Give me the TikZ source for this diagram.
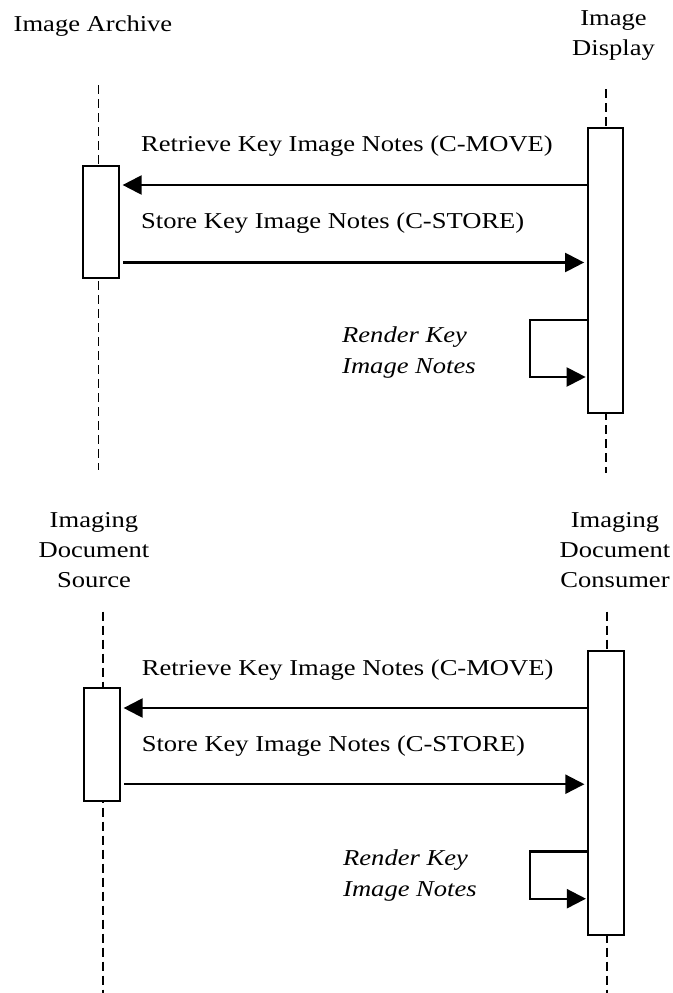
\documentclass[tikz,border=0pt]{standalone}
\usepackage{fontspec}
\setmainfont{Liberation Serif}[FakeStretch=1.17]
\usetikzlibrary{arrows.meta}
\begin{document}
\begin{tikzpicture}[x=1pt,y=-1pt,
  lbl/.style={inner sep=0pt,font=\fontsize{22.7}{30}\selectfont},
  actor/.style={lbl,align=center,anchor=base},
  msg/.style={lbl,anchor=base west},
  note/.style={lbl,anchor=base west,align=left,font=\fontsize{22.7}{30.5}\selectfont\itshape},
  life/.style={line width=1.8pt,dash pattern=on 9pt off 5pt},
  act/.style={draw,fill=white,line width=2.2pt},
  call/.style={line width=2.2pt,-{Triangle[length=19pt,width=19pt]}},
  ]
\useasboundingbox (0,0) rectangle (672,993);

% ---------------- top diagram ----------------
\node[actor] (archive) at (93,31.7) {Image Archive};
\node[actor] (display) at (613.5,55) {Image\\Display};

\coordinate (lA1) at (98.5,85);  \coordinate (lA2) at (98.5,470);
\coordinate (lD1) at (606,89);   \coordinate (lD2) at (606,473);
\draw[life] (lA1) -- (lA2);
\draw[life] (lD1) -- (lD2);

\node[act,inner sep=0pt,minimum width=36pt,minimum height=112.5pt] (boxA) at (101,222) {};
\node[act,inner sep=0pt,minimum width=35.5pt,minimum height=285pt] (boxD) at (605.5,270.3) {};

\node[msg] (m1) at (141,151.7) {Retrieve Key Image Notes (C-MOVE)};
\node[msg] (m2) at (141,228.3) {Store Key Image Notes (C-STORE)};

\draw[call,shorten >=2.5pt] (boxD.west |- 0,185) -- (boxA.east |- 0,185);
\draw[call,shorten <=3pt,shorten >=2.5pt] (boxA.east |- 0,262.5) -- (boxD.west |- 0,262.5);

\coordinate (loopT1) at (530,320);
\coordinate (loopT2) at (530,377);
\draw[call,shorten >=1pt] (boxD.west |- loopT1) -- (loopT1) -- (loopT2) -- (boxD.west |- loopT2);
\node[note] (r1) at (342,373.3) {Render Key\\Image Notes};

% ---------------- bottom diagram ----------------
\node[actor] (source) at (94,587.3) {Imaging\\Document\\Source};
\node[actor] (consumer) at (615,587.3) {Imaging\\Document\\Consumer};

\coordinate (lS1) at (102.7,611.7); \coordinate (lS2) at (102.7,993);
\coordinate (lC1) at (606.7,611.7); \coordinate (lC2) at (606.7,993);
\draw[life] (lS1) -- (lS2);
\draw[life] (lC1) -- (lC2);

\node[act,inner sep=0pt,minimum width=36pt,minimum height=112.7pt] (boxS) at (102,744.7) {};
\node[act,inner sep=0pt,minimum width=36pt,minimum height=284.6pt] (boxC) at (606,793) {};

\node[msg] (m3) at (141.6,675) {Retrieve Key Image Notes (C-MOVE)};
\node[msg] (m4) at (141.6,751.7) {Store Key Image Notes (C-STORE)};

\draw[call,shorten >=2.5pt] (boxC.west |- 0,708) -- (boxS.east |- 0,708);
\draw[call,shorten <=3pt,shorten >=2.5pt] (boxS.east |- 0,784.2) -- (boxC.west |- 0,784.2);

\coordinate (loopB1) at (530,851.5);
\coordinate (loopB2) at (530,898.7);
\draw[call,shorten >=1pt] (boxC.west |- loopB1) -- (loopB1) -- (loopB2) -- (boxC.west |- loopB2);
\node[note] (r2) at (343,896) {Render Key\\Image Notes};
\end{tikzpicture}
\end{document}
